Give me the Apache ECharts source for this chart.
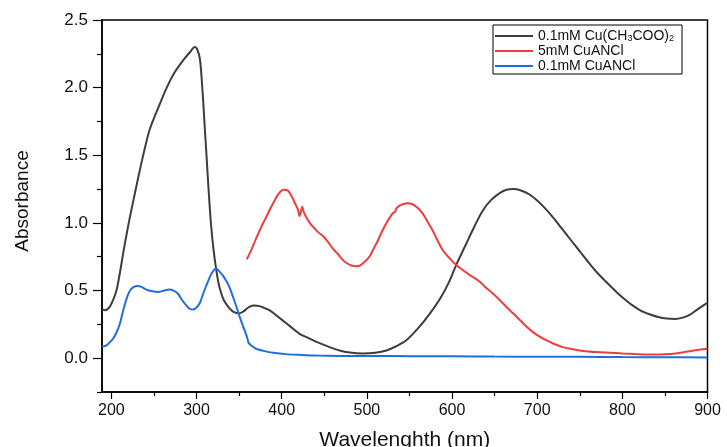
<!DOCTYPE html>
<html>
<head>
<meta charset="utf-8">
<script src="https://cdn.jsdelivr.net/npm/echarts@6/dist/echarts.min.js"></script>
<style>
html,body{margin:0;padding:0;background:#fff;}
#chart{width:727px;height:447px;}
</style>
</head>
<body>
<div id="chart"></div>
<script>
// Series names
const seriesNames = ['0.1mM Cu(CH3COO)2', '5mM CuANCl', '0.1mM CuANCl'];

// 0.1mM Cu(CH3COO)2  [wavelength nm, absorbance]
const cuAcetate = [
 [189,0.36],[193,0.355],[198,0.38],[202,0.43],[206,0.50],[210,0.63],[214,0.78],[218,0.92],[222,1.05],[226,1.17],
 [230,1.29],[237,1.49],[245,1.69],[255,1.85],[265,2.00],[274,2.11],[284,2.20],[292,2.26],[298,2.30],[301,2.28],
 [304,2.21],[306,2.07],[308,1.88],[310,1.67],[312,1.47],[314,1.26],[317,0.99],[320,0.80],[323,0.66],[326,0.55],
 [329,0.48],[332,0.43],[336,0.39],[340,0.36],[344,0.34],[348,0.333],[352,0.335],[355,0.345],[358,0.36],[362,0.38],
 [368,0.39],[374,0.385],[380,0.37],[386,0.354],[393,0.32],[400,0.285],[410,0.235],[421,0.18],[431,0.15],[441,0.12],
 [455,0.085],[468,0.057],[480,0.042],[495,0.035],[510,0.04],[523,0.057],[535,0.09],[546,0.13],[560,0.22],[574,0.33],
 [587,0.45],[597,0.57],[605,0.69],[617,0.85],[626,0.97],[636,1.09],[646,1.17],[656,1.22],[664,1.245],[672,1.25],
 [681,1.24],[691,1.21],[701,1.16],[711,1.096],[720,1.03],[730,0.95],[740,0.87],[750,0.79],[760,0.71],[770,0.635],
 [780,0.57],[793,0.49],[802,0.44],[812,0.39],[822,0.35],[832,0.325],[842,0.305],[852,0.293],[862,0.29],[871,0.30],
 [879,0.32],[887,0.355],[894,0.385],[900,0.41]
];

// 5mM CuANCl
const cuancl5 = [
 [359,0.73],[365,0.81],[370,0.886],[376,0.97],[382,1.046],[387,1.11],[392,1.17],[397,1.22],[402,1.245],[407,1.24],
 [410,1.215],[413,1.18],[416,1.14],[419,1.10],[421,1.05],[422.5,1.08],[424,1.12],[426,1.08],[429,1.04],[433,1.0],
 [437,0.97],[443,0.93],[449,0.90],[455,0.855],[460,0.81],[466,0.77],[472,0.725],[477,0.70],[482,0.685],[487,0.68],
 [492,0.685],[497,0.71],[503,0.75],[508,0.81],[513,0.87],[518,0.94],[523,1.0],[528,1.05],[531,1.075],[533,1.08],
 [535,1.11],[539,1.13],[543,1.14],[548,1.145],[553,1.14],[558,1.12],[563,1.09],[568,1.046],[573,0.99],[578,0.935],
 [583,0.87],[589,0.80],[597,0.74],[605,0.688],[613,0.65],[621,0.614],[627,0.59],[633,0.564],[640,0.52],[648,0.478],
 [656,0.43],[664,0.378],[672,0.33],[680,0.28],[688,0.23],[695,0.193],[703,0.16],[711,0.131],[720,0.105],[730,0.082],
 [740,0.068],[750,0.057],[760,0.05],[770,0.045],[785,0.04],[800,0.035],[815,0.031],[832,0.027],[846,0.028],[859,0.032],
 [870,0.042],[879,0.052],[890,0.062],[900,0.07]
];

// 0.1mM CuANCl
const cuancl01 = [
 [189,0.087],[193,0.09],[197,0.11],[202,0.144],[206,0.19],[210,0.255],[213,0.33],[216,0.40],[219,0.46],[222,0.50],
 [226,0.525],[231,0.534],[236,0.525],[241,0.507],[248,0.495],[255,0.49],[262,0.50],[268,0.507],[273,0.50],[278,0.478],
 [283,0.43],[288,0.39],[292,0.365],[296,0.36],[300,0.375],[304,0.41],[308,0.48],[313,0.56],[318,0.63],[323,0.663],
 [327,0.64],[331,0.61],[335,0.57],[339,0.52],[343,0.45],[347,0.378],[351,0.30],[355,0.23],[358,0.18],[360,0.14],
 [361,0.115],[365,0.09],[370,0.07],[380,0.052],[390,0.04],[405,0.03],[421,0.025],[441,0.02],[470,0.017],[500,0.016],
 [550,0.015],[600,0.014],[650,0.012],[700,0.011],[750,0.01],[800,0.008],[850,0.007],[900,0.005]
];

// Tick values
const xMajorTicks = [200,300,400,500,600,700,800,900];
const xMinorTicks = [250,350,450,550,650,750,850];
const yMajorTicks = [0,0.5,1.0,1.5,2.0,2.5];
const yMinorTicks = [-0.25,0.25,0.75,1.25,1.75,2.25];

const FONT = 'Liberation Sans, Arial, sans-serif';
const colors = ['#3d3d3d', '#ee3d3d', '#1f6fdc'];

const chart = echarts.init(document.getElementById('chart'));
chart.setOption({
  animation: false,
  backgroundColor: '#fff',
  grid: {left: 102, right: 19.5, top: 20, bottom: 55, outerBoundsMode: 'none', containLabel: false,
    show: true, borderColor: '#000', borderWidth: 1.5, backgroundColor: 'transparent'},
  legend: {
    orient: 'vertical', left: 493, top: 25,
    data: seriesNames,
    icon: 'rect', itemWidth: 38, itemHeight: 2, itemGap: 1,
    padding: [1, 8, 1, 2],
    borderColor: '#000', borderWidth: 1, backgroundColor: '#fff',
    textStyle: {fontFamily: FONT, fontSize: 14, color: '#111', lineHeight: 14,
      rich: {
        m: {fontFamily: FONT, fontSize: 14, color: '#111', lineHeight: 14, verticalAlign: 'top'},
        s: {fontFamily: FONT, fontSize: 9, color: '#111', lineHeight: 9, verticalAlign: 'bottom', padding: [8,0,0,0]}
      }},
    formatter: function(name){
      if (name === seriesNames[0]) return '{m|0.1mM Cu(CH}{s|3}{m|COO)}{s|2}';
      return name;
    }
  },
  xAxis: [{
    type: 'value', min: 189, max: 900,
    name: 'Wavelenghth (nm)', nameLocation: 'middle', nameGap: 38,
    nameTextStyle: {fontFamily: FONT, fontSize: 21, color: '#111'},
    splitLine: {show: false},
    axisLine: {show: true, onZero: false, lineStyle: {color: '#000', width: 1.5}},
    axisTick: {show: true, inside: false, length: 7, customValues: xMajorTicks, lineStyle: {color: '#000', width: 1.2}},
    axisLabel: {customValues: xMajorTicks, margin: 11, fontFamily: FONT, fontSize: 16, color: '#111'}
  },{
    type: 'value', min: 189, max: 900, position: 'bottom',
    splitLine: {show: false}, axisLine: {show: false, onZero: false},
    axisTick: {show: true, length: 4, customValues: xMinorTicks, lineStyle: {color: '#000', width: 1.2}},
    axisLabel: {show: false}
  }],
  yAxis: [{
    type: 'value', min: -0.25, max: 2.5,
    name: 'Absorbance', nameLocation: 'middle', nameGap: 70, nameRotate: 90,
    nameTextStyle: {fontFamily: FONT, fontSize: 19, color: '#111', padding: [0,0,0,10]},
    splitLine: {show: false},
    axisLine: {show: true, onZero: false, lineStyle: {color: '#000', width: 1.5}},
    axisTick: {show: true, length: 9, customValues: yMajorTicks, lineStyle: {color: '#000', width: 1.2}},
    axisLabel: {customValues: yMajorTicks, margin: 14, fontFamily: FONT, fontSize: 17, color: '#111',
      formatter: v => v.toFixed(1)}
  },{
    type: 'value', min: -0.25, max: 2.5, position: 'left',
    splitLine: {show: false}, axisLine: {show: false, onZero: false},
    axisTick: {show: true, length: 5, customValues: yMinorTicks, lineStyle: {color: '#000', width: 1.2}},
    axisLabel: {show: false}
  }],
  series: [
    {name: seriesNames[0], type: 'line', data: cuAcetate, showSymbol: false, smooth: 0.3, lineStyle: {color: colors[0], width: 2}, itemStyle: {color: colors[0]}},
    {name: seriesNames[1], type: 'line', data: cuancl5, showSymbol: false, smooth: 0.3, lineStyle: {color: colors[1], width: 2}, itemStyle: {color: colors[1]}},
    {name: seriesNames[2], type: 'line', data: cuancl01, showSymbol: false, smooth: 0.3, lineStyle: {color: colors[2], width: 2}, itemStyle: {color: colors[2]}}
  ]
});
</script>
</body>
</html>
